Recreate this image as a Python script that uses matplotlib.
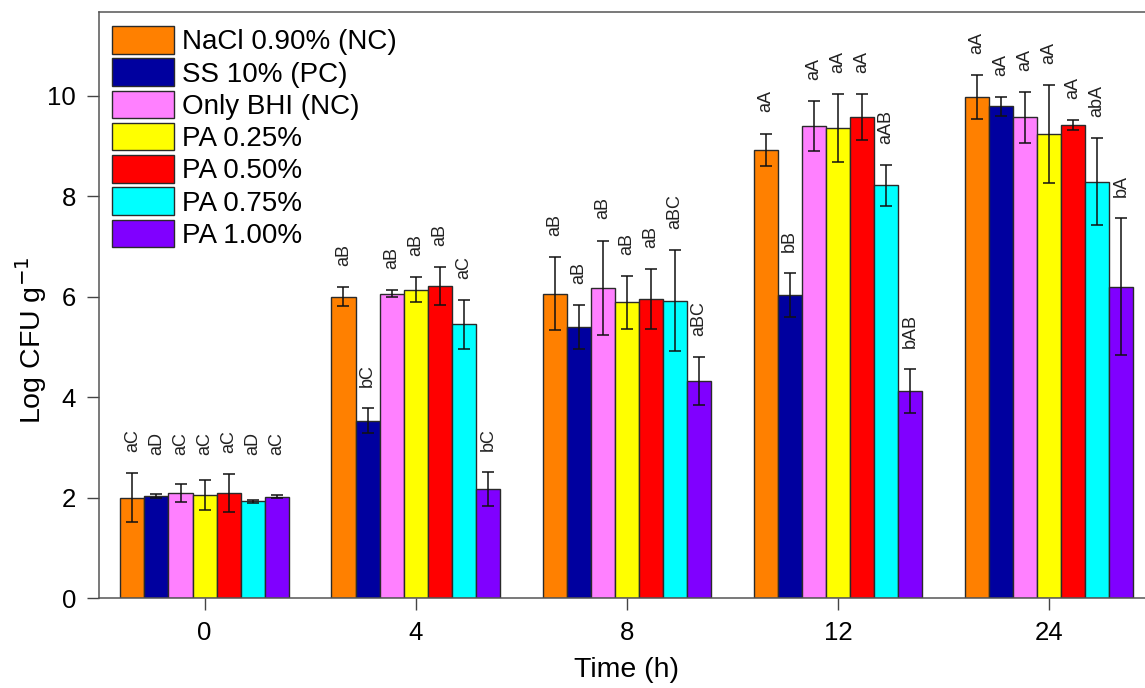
import numpy as np
from matplotlib import pyplot as plt

plt.rcParams['font.family'] = ['Liberation Sans', 'DejaVu Sans']

times = ["0", "4", "8", "12", "24"]
treatments = ["NaCl 0.90% (NC)", "SS 10% (PC)", "Only BHI (NC)", "PA 0.25%",
              "PA 0.50%", "PA 0.75%", "PA 1.00%"]
colors = ["#FF8000", "#00009F", "#FF80FF", "#FFFF00", "#FF0000", "#00FFFF", "#8000FF"]

# mean log CFU per g, one row per treatment, one column per time
means = [
    [2.00, 6.00, 6.06, 8.93, 9.97],
    [2.04, 3.53, 5.39, 6.03, 9.79],
    [2.09, 6.06, 6.18, 9.40, 9.57],
    [2.06, 6.14, 5.89, 9.36, 9.24],
    [2.09, 6.21, 5.96, 9.58, 9.42],
    [1.93, 5.45, 5.92, 8.22, 8.29],
    [2.02, 2.17, 4.32, 4.12, 6.20],
]
errors = [
    [0.49, 0.19, 0.73, 0.32, 0.44],
    [0.04, 0.25, 0.44, 0.44, 0.19],
    [0.18, 0.07, 0.94, 0.50, 0.51],
    [0.30, 0.25, 0.53, 0.67, 0.97],
    [0.37, 0.38, 0.60, 0.46, 0.10],
    [0.03, 0.49, 1.01, 0.41, 0.87],
    [0.03, 0.33, 0.47, 0.44, 1.36],
]
letters = [
    ["aC", "aB", "aB", "aA", "aA"],
    ["aD", "bC", "aB", "bB", "aA"],
    ["aC", "aB", "aB", "aA", "aA"],
    ["aC", "aB", "aB", "aA", "aA"],
    ["aC", "aB", "aB", "aA", "aA"],
    ["aD", "aC", "aBC", "aAB", "abA"],
    ["aC", "bC", "aBC", "bAB", "bA"],
]

fig = plt.figure(figsize=(11.45, 6.88), dpi=100)
ax = fig.add_axes([0.0865, 0.1308, 0.9218, 0.8517])

x = np.arange(len(times))
w = 0.114
n = len(treatments)
for i in range(n):
    pos = x + (i - (n - 1) / 2) * w
    ax.bar(pos, means[i], w, color=colors[i], edgecolor="#2a2a2a", linewidth=1,
           label=treatments[i], zorder=2)
    ax.errorbar(pos, means[i], yerr=errors[i], fmt="none", ecolor="#111111",
                elinewidth=1.1, capsize=4, capthick=1.1, zorder=3)
    for j in range(len(times)):
        top = max(means[i][j] + errors[i][j] + 0.42, 2.85)
        ax.text(pos[j], top, letters[i][j], rotation=90, ha="center", va="bottom",
                fontsize=13, color="#222222")

ax.set_xlim(-0.5, 4.5)
ax.set_ylim(0, 11.67)
ax.set_xticks(x)
ax.set_xticklabels(times)
ax.set_yticks([0, 2, 4, 6, 8, 10])
ax.tick_params(direction="out", length=8.5, width=1, labelsize=18.5, color="#444444")
ax.tick_params(axis="x", pad=8)
ax.tick_params(axis="y", pad=8)
for s in ax.spines.values():
    s.set_color("#555555")
    s.set_linewidth(1.1)

ax.set_xlabel("Time (h)", fontsize=20.5)
ax.set_ylabel("Log CFU g$^{-1}$", fontsize=20.5)
ax.xaxis.set_label_coords(0.5, -0.10)
ax.yaxis.set_label_coords(-0.047, 0.44)

ax.legend(loc="upper left", bbox_to_anchor=(0.0123, 0.976), frameon=False, fontsize=20,
          handlelength=2.23, handleheight=1.15, labelspacing=0.11, handletextpad=0.29,
          borderaxespad=0, borderpad=0)

plt.savefig("out.png", dpi=100)
